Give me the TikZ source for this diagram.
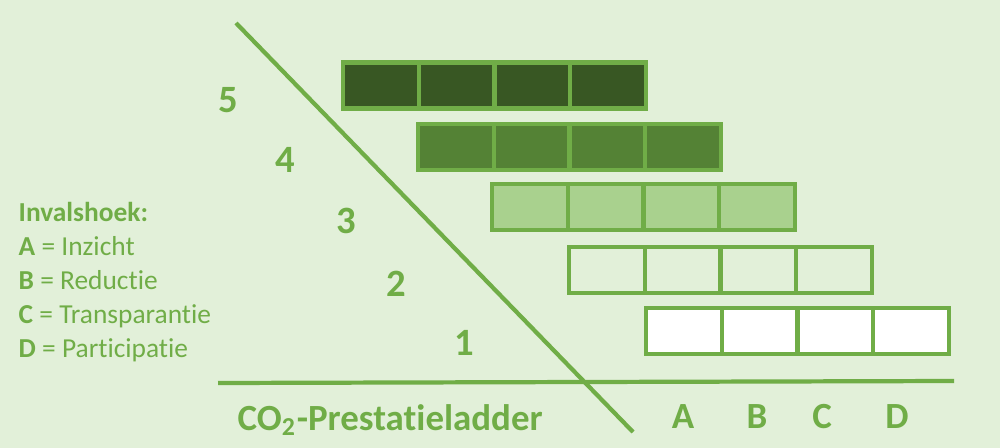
\documentclass[tikz,border=0pt]{standalone}
\usepackage{fontspec}
\setmainfont[Ligatures=NoCommon]{Carlito}
\usetikzlibrary{positioning}
\definecolor{ladbg}{HTML}{E2F0D9}
\definecolor{ladline}{HTML}{70AD47}
\definecolor{ladfive}{HTML}{385723}
\definecolor{ladfour}{HTML}{548235}
\definecolor{ladthree}{HTML}{A9D18E}
\tikzset{
  cell/.style={draw=ladline,line width=1.2pt,minimum width=0.757cm,minimum height=0.46cm,inner sep=0pt,outer sep=0pt},
  lvl/.style={text=ladline,font=\bfseries\fontsize{11}{13}\selectfont,inner sep=0pt},
  legend/.style={text=ladline,font=\fontsize{7.8}{9}\selectfont,inner sep=0pt,anchor=base west},
  axis/.style={draw=ladline,line width=1.2pt}
}
\begin{document}
\begin{tikzpicture}
% background
\fill[ladbg] (0,0) rectangle (10,-4.48);
\useasboundingbox (0,0) rectangle (10,-4.48);

% Axes
\coordinate (ladtop) at (2.36,-0.23);
\coordinate (ladbot) at (6.33,-4.32);
\coordinate (axl) at (2.18,-3.83);
\coordinate (axr) at (9.54,-3.81);
\draw[axis] (ladtop) -- (ladbot);
\draw[axis] (axl) -- (axr);

% Level 5
\node[cell,fill=ladfive] (v1) at (3.81,-0.855) {};
\node[cell,fill=ladfive,right=0 of v1] (v2) {};
\node[cell,fill=ladfive,right=0 of v2] (v3) {};
\node[cell,fill=ladfive,right=0 of v3] (v4) {};
% Level 4
\node[cell,fill=ladfour] (iv1) at (4.56,-1.47) {};
\node[cell,fill=ladfour,right=0 of iv1] (iv2) {};
\node[cell,fill=ladfour,right=0 of iv2] (iv3) {};
\node[cell,fill=ladfour,right=0 of iv3] (iv4) {};
% Level 3
\node[cell,fill=ladthree] (iii1) at (5.30,-2.07) {};
\node[cell,fill=ladthree,right=0 of iii1] (iii2) {};
\node[cell,fill=ladthree,right=0 of iii2] (iii3) {};
\node[cell,fill=ladthree,right=0 of iii3] (iii4) {};
% Level 2
\node[cell] (ii1) at (6.07,-2.70) {};
\node[cell,right=0 of ii1] (ii2) {};
\node[cell,right=0 of ii2] (ii3) {};
\node[cell,right=0 of ii3] (ii4) {};
% Level 1
\node[cell,fill=white] (i1) at (6.84,-3.31) {};
\node[cell,fill=white,right=0 of i1] (i2) {};
\node[cell,fill=white,right=0 of i2] (i3) {};
\node[cell,fill=white,right=0 of i3] (i4) {};

% Level numbers
\node[lvl] (n5) at (2.28,-1.00) {5};
\node[lvl] (n4) at (2.85,-1.60) {4};
\node[lvl] (n3) at (3.46,-2.21) {3};
\node[lvl] (n2) at (3.96,-2.84) {2};
\node[lvl] (n1) at (4.64,-3.43) {1};

% Invalshoek labels
\node[lvl,font=\bfseries\fontsize{10.5}{12}\selectfont] (ca) at (6.83,-4.165) {A};
\node[lvl,font=\bfseries\fontsize{10.5}{12}\selectfont] (cb) at (7.57,-4.165) {B};
\node[lvl,font=\bfseries\fontsize{10.5}{12}\selectfont] (cc) at (8.22,-4.165) {C};
\node[lvl,font=\bfseries\fontsize{10.5}{12}\selectfont] (cd) at (8.97,-4.165) {D};
\node[lvl,font=\bfseries\fontsize{10.5}{12}\selectfont,anchor=base west] (title) at (2.37,-4.30) {CO\textsubscript{2}-Prestatieladder};

% Legend
\node[legend] (inv) at (0.18,-2.22) {\textbf{Invalshoek:}};
\node[legend] (la) at ([yshift=-0.335cm]inv.base west) {\textbf{A} = Inzicht};
\node[legend] (lb) at ([yshift=-0.34cm]la.base west) {\textbf{B} = Reductie};
\node[legend] (lc) at ([yshift=-0.34cm]lb.base west) {\textbf{C} = Transparantie};
\node[legend] (ld) at ([yshift=-0.34cm]lc.base west) {\textbf{D} = Participatie};
\end{tikzpicture}
\end{document}
